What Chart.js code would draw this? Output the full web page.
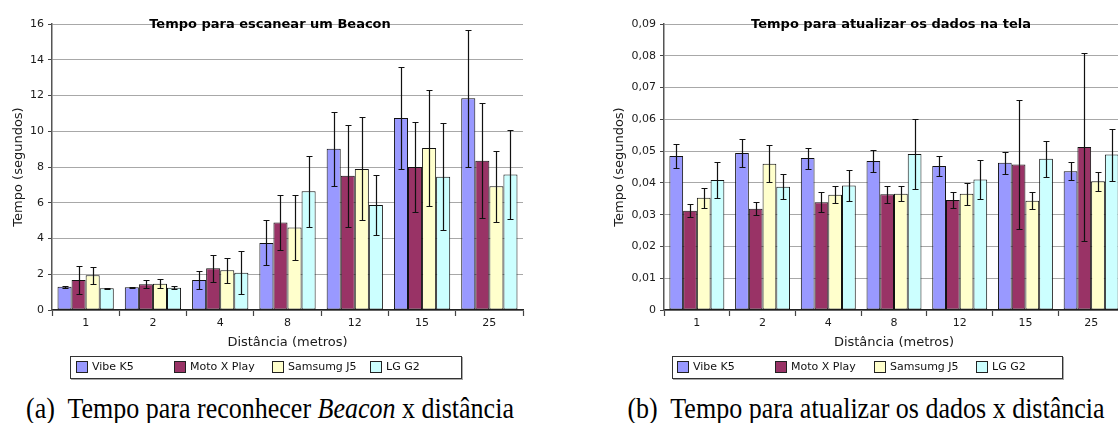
<!DOCTYPE html>
<html><head><meta charset="utf-8">
<script src="https://cdn.jsdelivr.net/npm/chart.js@4.4.0/dist/chart.umd.min.js"></script>
<style>
html,body{margin:0;padding:0;background:#fff;overflow:hidden;width:1118px;height:423px;position:relative;font-family:'DejaVu Sans',sans-serif;}
canvas{position:absolute;top:0;}
#c1{left:0;}
#c2{left:600px;}
.legend{position:absolute;top:356px;height:21px;border:1px solid #333;box-shadow:1px 1px 0 #aaa;background:#fff;}
.sw{position:absolute;top:361px;width:10px;height:10px;border:1px solid #222;}
.lt{position:absolute;top:360px;font-size:11px;line-height:13px;color:#111;white-space:nowrap;}
.cap{position:absolute;top:397px;font-family:'Liberation Serif',serif;font-size:26px;line-height:26px;color:#000;white-space:pre;text-align:center;transform:scaleY(1.1);transform-origin:0 22px;}
</style></head>
<body>
<canvas id="c1" width="540" height="360"></canvas>
<canvas id="c2" width="540" height="360"></canvas>
<div class="cap" style="left:0;width:540px;">(a)  Tempo para reconhecer <i>Beacon</i> x distância</div>
<div class="cap" style="left:596px;width:540px;">(b)  Tempo para atualizar os dados x distância</div>
<script>
// ---- data ----
const categories = ['1', '2', '4', '8', '12', '15', '25'];
const seriesNames = ['Vibe K5', 'Moto X Play', 'Samsumg J5', 'LG G2'];
const seriesColors = ['#9999ff', '#993366', '#ffffcc', '#ccffff'];

// Chart (a): Tempo para escanear um Beacon (seconds)
const vibeScan = [1.30, 1.27, 1.68, 3.75, 9.02, 10.74, 11.84];
const vibeScanErr = [0.05, 0.04, 0.48, 1.26, 2.07, 2.84, 3.85];
const motoScan = [1.68, 1.44, 2.33, 4.89, 7.51, 8.00, 8.35];
const motoScanErr = [0.77, 0.22, 0.74, 1.52, 2.86, 2.50, 3.22];
const samsScan = [1.94, 1.47, 2.22, 4.62, 7.89, 9.06, 6.92];
const samsScanErr = [0.47, 0.26, 0.70, 1.80, 2.88, 3.22, 2.00];
const lgScan = [1.21, 1.25, 2.09, 6.64, 5.87, 7.46, 7.58];
const lgScanErr = [0.02, 0.07, 1.22, 2.00, 1.70, 2.99, 2.47];
const yTicksScan = ['0', '2', '4', '6', '8', '10', '12', '14', '16'];

// Chart (b): Tempo para atualizar os dados na tela (seconds)
const vibeUpd = [0.0485, 0.0494, 0.0478, 0.0469, 0.0453, 0.0463, 0.0437];
const vibeUpdErr = [0.0038, 0.0045, 0.0033, 0.0034, 0.0031, 0.0035, 0.0029];
const motoUpd = [0.0312, 0.0319, 0.0339, 0.0364, 0.0346, 0.0458, 0.0513];
const motoUpdErr = [0.0020, 0.0021, 0.0032, 0.0027, 0.0026, 0.0203, 0.0296];
const samsUpd = [0.0353, 0.0460, 0.0363, 0.0366, 0.0366, 0.0344, 0.0405];
const samsUpdErr = [0.0031, 0.0058, 0.0027, 0.0024, 0.0035, 0.0027, 0.0029];
const lgUpd = [0.0409, 0.0388, 0.0392, 0.0491, 0.0411, 0.0476, 0.0489];
const lgUpdErr = [0.0057, 0.0040, 0.0049, 0.0109, 0.0062, 0.0057, 0.0082];
const yTicksUpd = ['0', '0,01', '0,02', '0,03', '0,04', '0,05', '0,06', '0,07', '0,08', '0,09'];

const xTitle = 'Distância (metros)';
const yTitle = 'Tempo (segundos)';
const titleScan = 'Tempo para escanear um Beacon';
const titleUpd = 'Tempo para atualizar os dados na tela';

// ---- plugins ----
const errorBars = {
  id: 'errorBars',
  afterDatasetsDraw(chart) {
    const ctx = chart.ctx, y = chart.scales.y;
    ctx.save();
    ctx.strokeStyle = '#111';
    ctx.lineWidth = 1.2;
    chart.data.datasets.forEach((ds, i) => {
      const meta = chart.getDatasetMeta(i);
      meta.data.forEach((bar, j) => {
        const v = ds.data[j], e = ds.errors[j];
        const x = Math.round(bar.x) + 0.5;
        const yt = Math.round(y.getPixelForValue(v + e)) + 0.5;
        const yb = Math.round(y.getPixelForValue(v - e)) + 0.5;
        ctx.beginPath();
        ctx.moveTo(x, yt); ctx.lineTo(x, yb);
        ctx.moveTo(x - 3, yt); ctx.lineTo(x + 3, yt);
        ctx.moveTo(x - 3, yb); ctx.lineTo(x + 3, yb);
        ctx.stroke();
      });
    });
    ctx.restore();
  }
};
const topTitle = {
  id: 'topTitle',
  afterDraw(chart, args, opts) {
    const ctx = chart.ctx;
    ctx.save();
    ctx.font = 'bold 13px "DejaVu Sans"';
    ctx.fillStyle = '#000';
    ctx.textAlign = 'center';
    ctx.textBaseline = 'alphabetic';
    ctx.fillText(opts.text, opts.x, chart.chartArea.top + 3.5);
    ctx.restore();
  }
};

Chart.defaults.font.family = '"DejaVu Sans", sans-serif';

function makeChart(id, cfg) {
  const data = {
    labels: categories,
    datasets: cfg.series.map((s, i) => ({
      label: seriesNames[i],
      data: s[0],
      errors: s[1],
      backgroundColor: seriesColors[i],
      borderColor: '#111',
      borderWidth: 1,
      borderSkipped: false,
      categoryPercentage: 0.836,
      barPercentage: 1.0
    }))
  };
  return new Chart(document.getElementById(id), {
    type: 'bar',
    data,
    plugins: [errorBars, topTitle],
    options: {
      responsive: false,
      animation: false,
      devicePixelRatio: 1,
      layout: { padding: { top: 24, left: 0, right: cfg.padRight, bottom: 0 } },
      plugins: {
        legend: { display: false },
        tooltip: { enabled: false },
        topTitle: { text: cfg.title, x: cfg.titleX }
      },
      scales: {
        x: {
          offset: true,
          grid: { offset: true, drawOnChartArea: false, drawTicks: true, tickLength: 6, tickColor: '#444', tickWidth: 1.2 },
          border: { color: '#222', width: 1.5 },
          ticks: { color: '#1a1a1a', font: { size: 11 }, padding: 1, maxRotation: 0 },
          title: { display: true, text: xTitle, color: '#1a1a1a', font: { size: 13 }, padding: { top: 0, bottom: 10 } },
          afterFit(s) { s.height = 50; }
        },
        y: {
          min: 0,
          max: cfg.yMax,
          ticks: {
            stepSize: cfg.step,
            autoSkip: false,
            color: '#1a1a1a',
            font: { size: 11 },
            padding: 4,
            callback: (v, i) => cfg.yLabels[i]
          },
          grid: { color: '#a8a8a8', lineWidth: 1, tickLength: 4, tickColor: '#444' },
          border: { color: '#555', width: 1.5 },
          title: { display: true, text: yTitle, color: '#1a1a1a', font: { size: 13 }, padding: { top: cfg.yTitlePad, bottom: 0 } },
          afterFit(s) { s.width = cfg.yWidth; }
        }
      }
    }
  });
}

makeChart('c1', {
  series: [[vibeScan, vibeScanErr], [motoScan, motoScanErr], [samsScan, samsScanErr], [lgScan, lgScanErr]],
  yMax: 16, step: 2, yLabels: yTicksScan,
  title: titleScan, titleX: 270,
  padRight: 17, yWidth: 52, yTitlePad: 10.7
});
makeChart('c2', {
  series: [[vibeUpd, vibeUpdErr], [motoUpd, motoUpdErr], [samsUpd, samsUpdErr], [lgUpd, lgUpdErr]],
  yMax: 0.09, step: 0.01, yLabels: yTicksUpd,
  title: titleUpd, titleX: 291,
  padRight: 16, yWidth: 64, yTitlePad: 12.2
});

// ---- HTML legends ----
function makeLegend(box, swatchX) {
  const b = document.createElement('div');
  b.className = 'legend';
  b.style.left = box[0] + 'px';
  b.style.width = (box[1] - box[0] - 2) + 'px';
  document.body.appendChild(b);
  seriesNames.forEach((name, i) => {
    const s = document.createElement('div');
    s.className = 'sw';
    s.style.left = swatchX[i] + 'px';
    s.style.background = seriesColors[i];
    document.body.appendChild(s);
    const t = document.createElement('div');
    t.className = 'lt';
    t.style.left = (swatchX[i] + 16) + 'px';
    t.textContent = name;
    document.body.appendChild(t);
  });
}
makeLegend([70, 462], [76, 174, 272, 370]);
makeLegend([672, 1063], [677, 775, 874, 976]);
</script>
</body></html>
